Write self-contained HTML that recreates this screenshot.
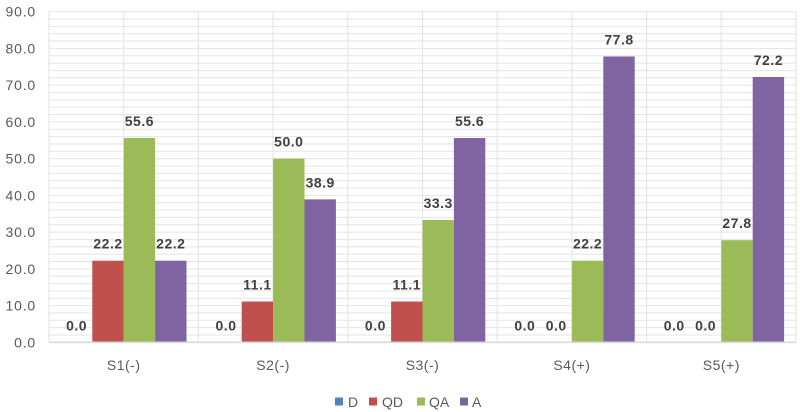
<!DOCTYPE html>
<html><head><meta charset="utf-8"><style>
html,body{margin:0;padding:0;background:#fff;}
svg{display:block;}
text{font-family:"Liberation Sans",sans-serif;}
.yl{font-size:14px;fill:#595959;text-anchor:end;letter-spacing:0.8px;}
.cl{font-size:14px;fill:#595959;text-anchor:middle;letter-spacing:0.5px;}
.vl{font-size:14px;font-weight:bold;fill:#404040;text-anchor:middle;letter-spacing:0.5px;}
.lg{font-size:14px;fill:#595959;}
</style></head><body>
<svg width="800" height="412" viewBox="0 0 800 412" xmlns="http://www.w3.org/2000/svg">
<defs>
<pattern id="hg" patternUnits="userSpaceOnUse" x="0" y="11.14" width="800" height="7.348">
<rect x="0" y="0" width="800" height="1.1" fill="#e6e6e6"/>
</pattern>
</defs>
<rect x="0" y="0" width="800" height="412" fill="#fff"/>
<rect x="49" y="11" width="747" height="331" fill="url(#hg)"/>
<g stroke="#e6e6e6" stroke-width="1.2">
<line x1="49" y1="11.6" x2="49" y2="342"/>
<line x1="123.7" y1="11.6" x2="123.7" y2="342"/>
<line x1="198.4" y1="11.6" x2="198.4" y2="342"/>
<line x1="273.1" y1="11.6" x2="273.1" y2="342"/>
<line x1="347.8" y1="11.6" x2="347.8" y2="342"/>
<line x1="422.5" y1="11.6" x2="422.5" y2="342"/>
<line x1="497.2" y1="11.6" x2="497.2" y2="342"/>
<line x1="571.9" y1="11.6" x2="571.9" y2="342"/>
<line x1="646.6" y1="11.6" x2="646.6" y2="342"/>
<line x1="721.3" y1="11.6" x2="721.3" y2="342"/>
<line x1="796" y1="11.6" x2="796" y2="342"/>
</g>
<g>
<rect x="92.3" y="260.7" width="31.4" height="81.6" fill="#C0504D"/>
<rect x="123.7" y="138.0" width="31.4" height="204.3" fill="#9BBB59"/>
<rect x="155.1" y="260.7" width="31.4" height="81.6" fill="#8064A2"/>

<rect x="241.7" y="301.5" width="31.4" height="40.8" fill="#C0504D"/>
<rect x="273.1" y="158.6" width="31.4" height="183.7" fill="#9BBB59"/>
<rect x="304.5" y="199.4" width="31.4" height="142.9" fill="#8064A2"/>

<rect x="391.1" y="301.5" width="31.4" height="40.8" fill="#C0504D"/>
<rect x="422.5" y="220.0" width="31.4" height="122.3" fill="#9BBB59"/>
<rect x="453.9" y="138.0" width="31.4" height="204.3" fill="#8064A2"/>

<rect x="571.9" y="260.7" width="31.4" height="81.6" fill="#9BBB59"/>
<rect x="603.3" y="56.5" width="31.4" height="285.8" fill="#8064A2"/>

<rect x="721.3" y="240.2" width="31.4" height="102.1" fill="#9BBB59"/>
<rect x="752.7" y="77.0" width="31.4" height="265.3" fill="#8064A2"/>
</g>
<line x1="49" y1="342.3" x2="796" y2="342.3" stroke="#d9d9d9" stroke-width="1.6"/>
<text class="yl" x="36" y="347.3">0.0</text>
<text class="yl" x="36" y="310.6">10.0</text>
<text class="yl" x="36" y="273.8">20.0</text>
<text class="yl" x="36" y="237.1">30.0</text>
<text class="yl" x="36" y="200.3">40.0</text>
<text class="yl" x="36" y="163.6">50.0</text>
<text class="yl" x="36" y="126.9">60.0</text>
<text class="yl" x="36" y="90.1">70.0</text>
<text class="yl" x="36" y="53.4">80.0</text>
<text class="yl" x="36" y="16.6">90.0</text>
<text class="cl" x="123.7" y="370">S1(-)</text>
<text class="cl" x="273.1" y="370">S2(-)</text>
<text class="cl" x="422.5" y="370">S3(-)</text>
<text class="cl" x="571.9" y="370">S4(+)</text>
<text class="cl" x="721.3" y="370">S5(+)</text>
<text class="vl" x="76.6" y="330.5">0.0</text>
<text class="vl" x="108" y="248.7">22.2</text>
<text class="vl" x="139.4" y="126">55.6</text>
<text class="vl" x="170.8" y="248.7">22.2</text>

<text class="vl" x="226" y="330.5">0.0</text>
<text class="vl" x="257.4" y="289.5">11.1</text>
<text class="vl" x="288.8" y="146.6">50.0</text>
<text class="vl" x="320.2" y="187.4">38.9</text>

<text class="vl" x="375.4" y="330.5">0.0</text>
<text class="vl" x="406.8" y="289.5">11.1</text>
<text class="vl" x="438.2" y="208">33.3</text>
<text class="vl" x="469.6" y="126">55.6</text>

<text class="vl" x="524.8" y="330.5">0.0</text>
<text class="vl" x="556.2" y="330.5">0.0</text>
<text class="vl" x="587.6" y="248.7">22.2</text>
<text class="vl" x="619" y="44.5">77.8</text>

<text class="vl" x="674.2" y="330.5">0.0</text>
<text class="vl" x="705.6" y="330.5">0.0</text>
<text class="vl" x="737" y="228.2">27.8</text>
<text class="vl" x="768.4" y="65">72.2</text>
<rect x="335" y="397.5" width="8" height="8" fill="#4F81BD"/>
<text class="lg" x="348" y="407">D</text>
<rect x="369" y="397.5" width="8" height="8" fill="#C0504D"/>
<text class="lg" x="382" y="407">QD</text>
<rect x="417" y="397.5" width="8" height="8" fill="#9BBB59"/>
<text class="lg" x="429" y="407">QA</text>
<rect x="460" y="397.5" width="8" height="8" fill="#8064A2"/>
<text class="lg" x="472" y="407">A</text>
</svg>
</body></html>
